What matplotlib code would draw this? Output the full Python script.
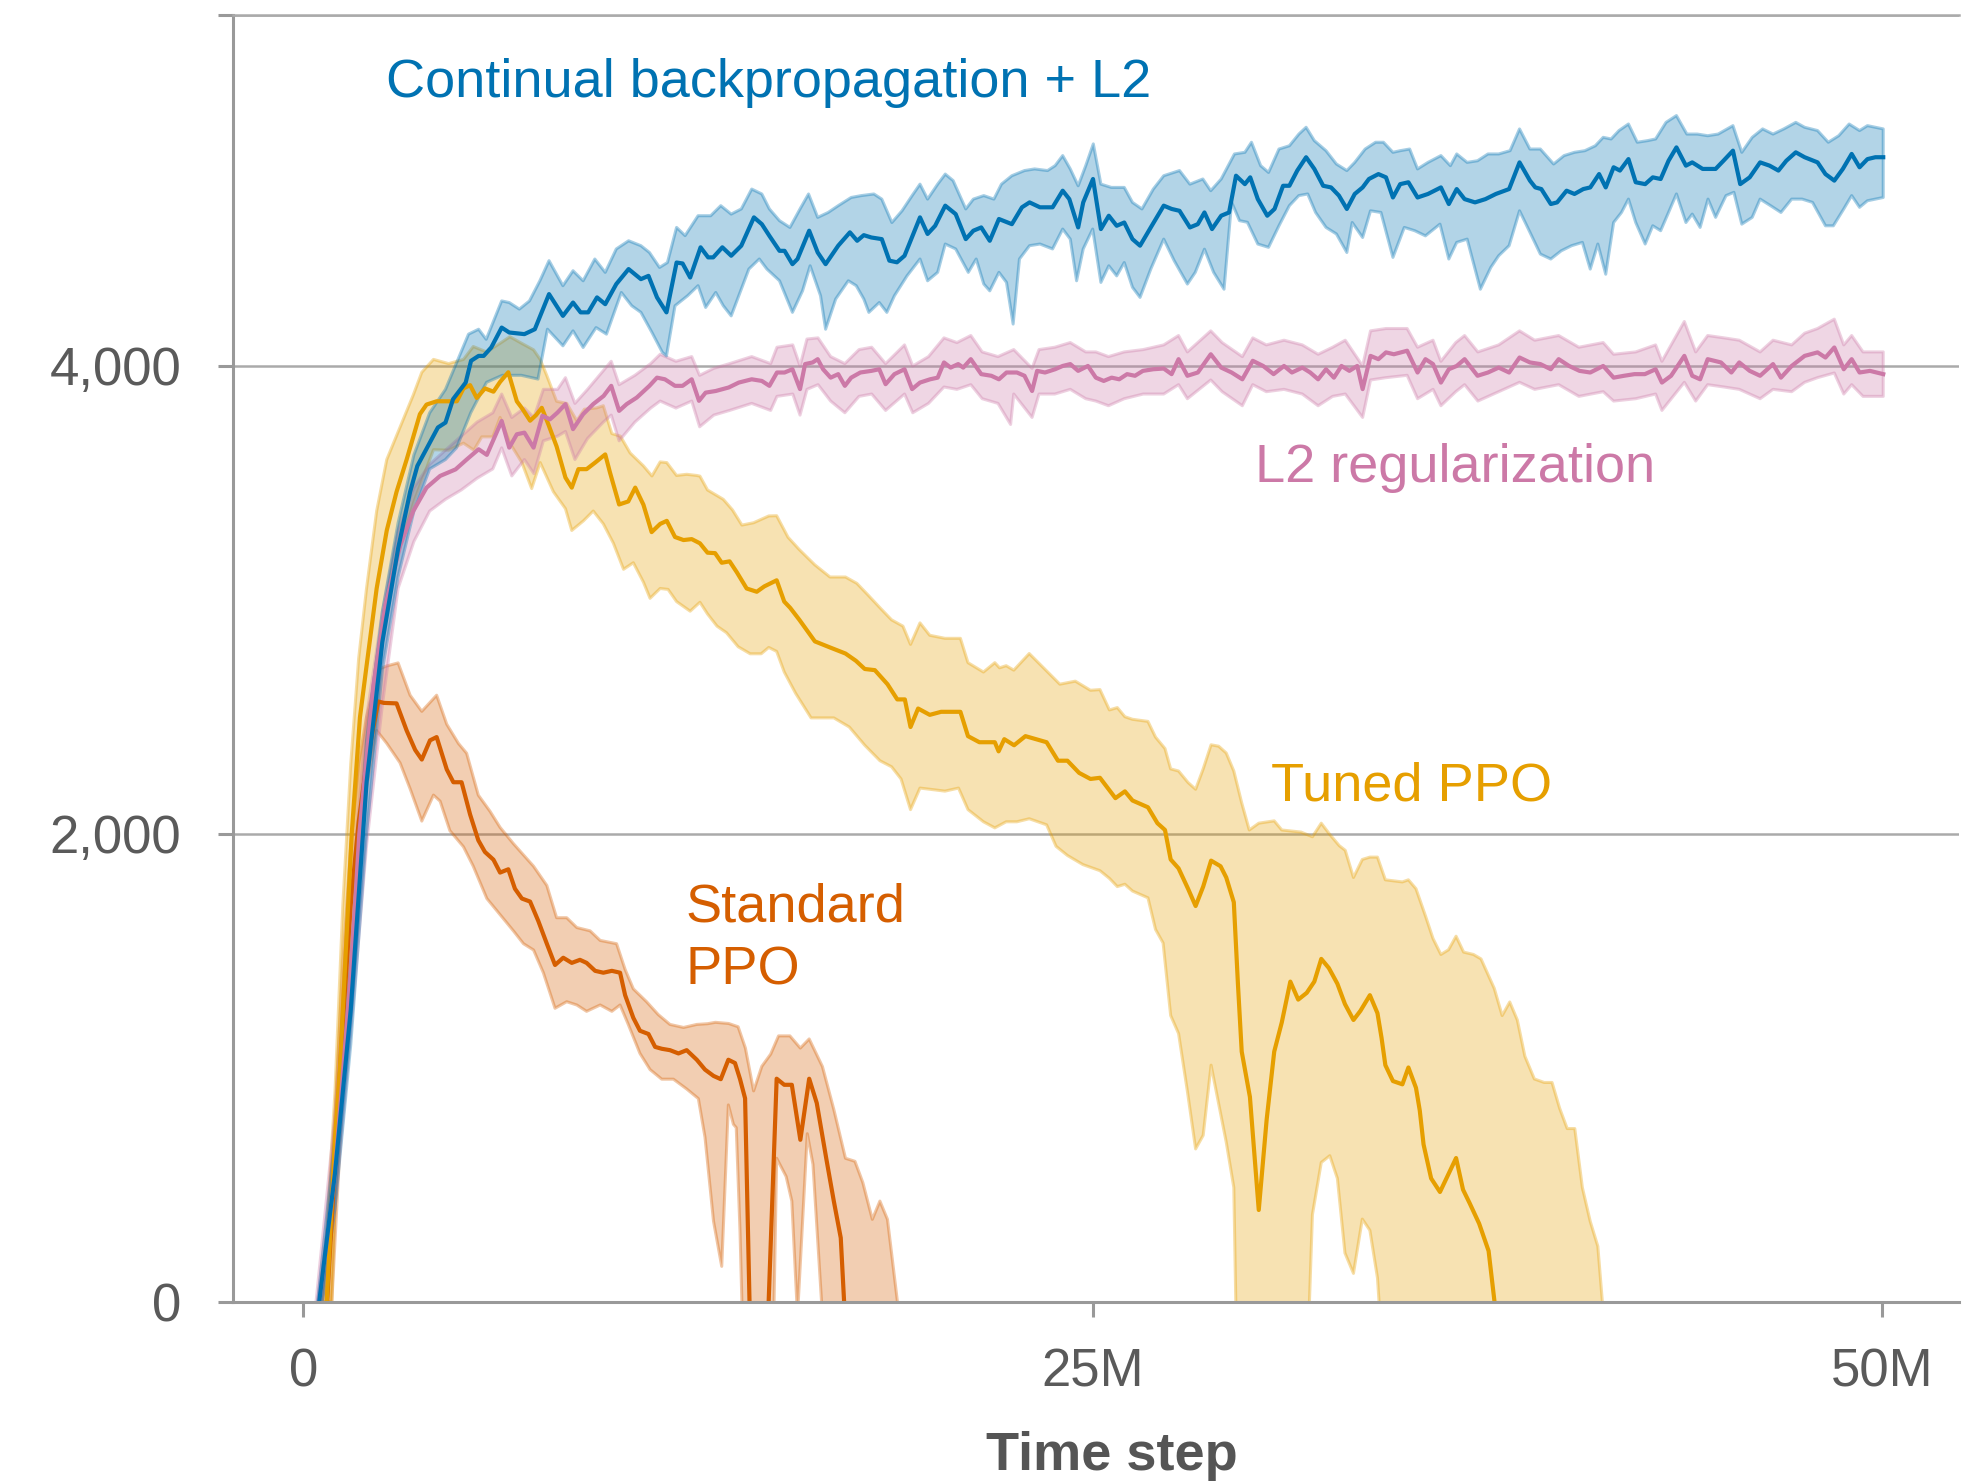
import numpy as np
import matplotlib
matplotlib.use("Agg")
import matplotlib.pyplot as plt
from matplotlib.colors import to_rgba

plt.rcParams['font.family'] = ['Liberation Sans', 'DejaVu Sans']

# Okabe-Ito colours
C_CBP = '#0072B2'
C_L2 = '#CC79A7'
C_TUNED = '#E69F00'
C_STD = '#D55E00'

# ---- data: (time step in millions, episodic return) ----
cbp_mean = [(0.5, 0), (1.0, 550), (1.5, 1250), (2.0, 2220), (2.5, 2820), (3.0, 3220), (3.38, 3462), (3.61, 3573),
            (4.26, 3737), (4.5, 3758), (4.74, 3858), (5.14, 3929), (5.31, 4022), (5.55, 4043), (5.71, 4043),
            (5.95, 4079), (6.28, 4164), (6.52, 4143), (7.0, 4136), (7.33, 4157), (7.78, 4307), (8.22, 4214),
            (8.54, 4271), (8.78, 4229), (9.02, 4229), (9.3, 4293), (9.56, 4264), (9.91, 4350), (10.3, 4414),
            (10.69, 4371), (10.93, 4385), (11.2, 4293), (11.5, 4229), (11.82, 4442), (12.01, 4438), (12.25, 4378),
            (12.58, 4507), (12.82, 4464), (12.98, 4464), (13.27, 4507), (13.55, 4471), (13.87, 4514), (14.27, 4635),
            (14.52, 4606), (14.76, 4556), (15.08, 4492), (15.24, 4492), (15.49, 4435), (15.65, 4457), (16.02, 4578),
            (16.29, 4485), (16.54, 4435), (16.94, 4514), (17.31, 4571), (17.54, 4535), (17.75, 4559), (17.99, 4549),
            (18.32, 4542), (18.56, 4450), (18.8, 4443), (19.04, 4471), (19.53, 4635), (19.77, 4564), (20.01, 4599),
            (20.33, 4685), (20.66, 4649), (20.98, 4542), (21.22, 4578), (21.47, 4592), (21.74, 4535), (22.03, 4628),
            (22.44, 4606), (22.76, 4678), (23.0, 4699), (23.33, 4678), (23.73, 4678), (24.05, 4749), (24.26, 4713),
            (24.54, 4592), (24.7, 4699), (25.01, 4799), (25.26, 4585), (25.51, 4642), (25.76, 4599), (26.0, 4613),
            (26.26, 4542), (26.5, 4514), (26.84, 4592), (27.25, 4685), (27.5, 4671), (27.75, 4663), (28.08, 4592),
            (28.33, 4606), (28.54, 4656), (28.78, 4585), (29.07, 4642), (29.32, 4656), (29.54, 4813), (29.82, 4777),
            (29.99, 4806), (30.23, 4713), (30.53, 4642), (30.76, 4671), (31.03, 4770), (31.23, 4770), (31.48, 4835),
            (31.76, 4892), (32.02, 4842), (32.3, 4770), (32.55, 4763), (32.8, 4728), (33.05, 4671), (33.3, 4735),
            (33.55, 4763), (33.75, 4799), (34.05, 4820), (34.29, 4806), (34.51, 4720), (34.74, 4777), (35.0, 4785),
            (35.29, 4720), (35.62, 4735), (36.03, 4763), (36.28, 4692), (36.53, 4756), (36.78, 4713), (37.11, 4699),
            (37.44, 4713), (37.77, 4735), (38.19, 4756), (38.52, 4870), (38.85, 4792), (39.02, 4763), (39.21, 4756),
            (39.51, 4692), (39.71, 4699), (40.01, 4749), (40.26, 4735), (40.54, 4756), (40.76, 4763), (41.04, 4820),
            (41.25, 4763), (41.5, 4849), (41.7, 4835), (41.97, 4884), (42.2, 4785), (42.5, 4777), (42.74, 4806),
            (42.99, 4799), (43.24, 4877), (43.49, 4934), (43.79, 4856), (43.99, 4870), (44.32, 4842), (44.73, 4842),
            (44.98, 4877), (45.28, 4920), (45.51, 4777), (45.81, 4806), (46.14, 4870), (46.44, 4856), (46.72, 4835),
            (46.97, 4877), (47.27, 4913), (47.55, 4892), (47.96, 4870), (48.21, 4820), (48.49, 4792), (48.76, 4842),
            (49.04, 4906), (49.29, 4849), (49.54, 4884), (49.79, 4892), (50.04, 4892)]
cbp_hi = [(0.45, 0), (1.0, 700), (1.5, 1450), (2.0, 2400), (2.5, 2950), (3.0, 3330), (3.5, 3620), (4.0, 3800),
          (4.5, 3900), (5.23, 4136), (5.55, 4157), (5.79, 4114), (6.28, 4278), (6.52, 4271), (6.84, 4243),
          (7.16, 4278), (7.49, 4364), (7.78, 4450), (8.22, 4343), (8.54, 4407), (8.86, 4364), (9.23, 4457),
          (9.56, 4400), (9.91, 4500), (10.3, 4535), (10.69, 4514), (10.96, 4485), (11.28, 4421), (11.53, 4442),
          (11.82, 4592), (12.09, 4557), (12.5, 4642), (12.9, 4642), (13.22, 4685), (13.55, 4649), (13.87, 4671),
          (14.2, 4756), (14.52, 4735), (14.76, 4671), (15.08, 4621), (15.41, 4592), (15.73, 4671), (16.0, 4735),
          (16.29, 4635), (16.62, 4656), (16.94, 4685), (17.35, 4720), (17.67, 4728), (18.07, 4735), (18.32, 4713),
          (18.64, 4613), (18.96, 4663), (19.28, 4728), (19.53, 4777), (19.77, 4713), (20.09, 4777), (20.33, 4820),
          (20.58, 4792), (20.98, 4671), (21.22, 4713), (21.55, 4728), (21.87, 4713), (22.11, 4777), (22.44, 4813),
          (22.84, 4835), (23.16, 4842), (23.57, 4835), (23.81, 4856), (24.05, 4899), (24.29, 4842), (24.54, 4770),
          (24.78, 4856), (25.02, 4949), (25.26, 4777), (25.59, 4763), (26.0, 4763), (26.26, 4699), (26.56, 4671),
          (26.92, 4756), (27.25, 4813), (27.75, 4835), (28.08, 4777), (28.49, 4799), (28.74, 4749), (29.07, 4799),
          (29.49, 4906), (29.82, 4913), (30.03, 4956), (30.32, 4856), (30.57, 4827), (30.9, 4927), (31.23, 4941),
          (31.53, 4991), (31.76, 5020), (32.02, 4963), (32.39, 4920), (32.72, 4863), (33.05, 4835), (33.3, 4870),
          (33.63, 4927), (33.96, 4956), (34.21, 4956), (34.51, 4913), (34.74, 4920), (35.04, 4927), (35.29, 4842),
          (35.62, 4870), (36.03, 4899), (36.33, 4856), (36.53, 4906), (36.86, 4870), (37.19, 4877), (37.52, 4906),
          (37.86, 4906), (38.22, 4920), (38.52, 5013), (38.85, 4927), (39.18, 4927), (39.6, 4863), (39.93, 4899),
          (40.26, 4913), (40.59, 4920), (40.92, 4941), (41.17, 4977), (41.42, 4970), (41.67, 5006), (41.97, 5034),
          (42.25, 4956), (42.58, 4963), (42.83, 4970), (43.16, 5041), (43.49, 5070), (43.82, 4991), (44.15, 4991),
          (44.48, 4984), (44.81, 4991), (45.28, 5027), (45.56, 4913), (45.89, 4977), (46.22, 5013), (46.55, 4991),
          (46.89, 5013), (47.27, 5041), (47.55, 5020), (47.96, 5006), (48.3, 4956), (48.63, 4984), (48.96, 5034),
          (49.29, 5006), (49.54, 5027), (50.04, 5013)]
cbp_lo = [(0.6, 0), (1.0, 400), (1.5, 1100), (2.0, 2000), (2.5, 2700), (3.0, 3100), (3.5, 3380), (4.0, 3560),
          (4.5, 3600), (4.85, 3650), (5.3, 3800), (5.8, 3930), (6.3, 3960), (6.9, 3960), (7.43, 3944), (7.73, 4157),
          (8.22, 4086), (8.54, 4150), (8.86, 4079), (9.27, 4164), (9.6, 4136), (10.07, 4314), (10.4, 4257),
          (10.69, 4229), (11.04, 4143), (11.37, 4058), (11.5, 4043), (11.77, 4257), (12.17, 4300), (12.5, 4343),
          (12.74, 4250), (13.06, 4314), (13.3, 4257), (13.55, 4214), (14.11, 4414), (14.44, 4457), (14.68, 4414),
          (15.08, 4364), (15.49, 4229), (15.81, 4321), (16.05, 4428), (16.38, 4300), (16.54, 4157), (16.86, 4286),
          (17.26, 4364), (17.51, 4343), (17.75, 4286), (17.91, 4229), (18.24, 4271), (18.48, 4229), (18.72, 4300),
          (19.12, 4385), (19.53, 4457), (19.77, 4364), (20.09, 4400), (20.33, 4521), (20.66, 4500), (21.06, 4400),
          (21.31, 4457), (21.55, 4350), (21.74, 4321), (22.03, 4400), (22.27, 4357), (22.48, 4179), (22.68, 4457),
          (23.0, 4514), (23.33, 4521), (23.73, 4500), (24.05, 4585), (24.29, 4542), (24.49, 4364), (24.7, 4500),
          (25.0, 4585), (25.26, 4357), (25.51, 4428), (25.76, 4385), (26.0, 4442), (26.26, 4336), (26.5, 4293),
          (26.84, 4414), (27.25, 4542), (27.58, 4450), (28.0, 4350), (28.25, 4400), (28.54, 4499), (28.83, 4400),
          (29.16, 4328), (29.4, 4700), (29.65, 4621), (29.9, 4614), (30.23, 4521), (30.57, 4507), (30.9, 4599),
          (31.23, 4685), (31.53, 4728), (31.81, 4735), (32.06, 4656), (32.39, 4592), (32.72, 4564), (33.05, 4485),
          (33.22, 4613), (33.55, 4549), (33.8, 4663), (34.13, 4656), (34.51, 4464), (34.87, 4592), (35.2, 4578),
          (35.54, 4556), (36.0, 4606), (36.28, 4457), (36.53, 4528), (36.86, 4542), (37.28, 4328), (37.61, 4421),
          (37.86, 4471), (38.19, 4514), (38.52, 4663), (38.85, 4571), (39.18, 4478), (39.51, 4457), (39.84, 4492),
          (40.17, 4514), (40.51, 4528), (40.76, 4414), (41.0, 4521), (41.25, 4392), (41.5, 4613), (41.75, 4656),
          (41.97, 4713), (42.2, 4613), (42.5, 4521), (42.74, 4599), (42.99, 4578), (43.24, 4656), (43.49, 4735),
          (43.79, 4613), (43.99, 4649), (44.24, 4592), (44.49, 4713), (44.73, 4635), (45.06, 4728), (45.31, 4742),
          (45.56, 4606), (45.89, 4635), (46.14, 4713), (46.47, 4685), (46.8, 4656), (47.14, 4713), (47.47, 4713),
          (47.8, 4699), (48.21, 4599), (48.46, 4599), (48.79, 4671), (49.04, 4728), (49.29, 4678), (49.54, 4706),
          (50.04, 4720)]

l2_mean = [(0.5, 0), (1.0, 550), (1.5, 1400), (1.77, 2000), (2.22, 2635), (2.6, 2980), (3.06, 3230), (3.48, 3380),
           (3.9, 3480), (4.33, 3530), (4.82, 3558), (5.17, 3600), (5.55, 3644), (5.81, 3620), (6.28, 3765),
           (6.52, 3651), (6.76, 3708), (7.0, 3715), (7.29, 3651), (7.57, 3787), (7.81, 3772), (8.05, 3801),
           (8.3, 3837), (8.54, 3730), (8.86, 3794), (9.18, 3837), (9.51, 3872), (9.75, 3915), (10.0, 3808),
           (10.24, 3837), (10.56, 3865), (10.96, 3915), (11.2, 3950), (11.45, 3943), (11.77, 3915), (12.01, 3915),
           (12.3, 3943), (12.53, 3851), (12.74, 3886), (13.06, 3893), (13.47, 3908), (13.79, 3929), (14.2, 3943),
           (14.52, 3936), (14.76, 3915), (15.0, 3972), (15.24, 3972), (15.49, 3986), (15.73, 3901), (15.89, 4008),
           (16.13, 4015), (16.29, 4029), (16.46, 3986), (16.7, 3950), (16.94, 3965), (17.15, 3915), (17.35, 3950),
           (17.64, 3972), (17.99, 3979), (18.24, 3986), (18.44, 3922), (18.72, 3965), (19.04, 3986), (19.28, 3901),
           (19.53, 3929), (19.85, 3943), (20.09, 3950), (20.29, 4015), (20.5, 3993), (20.74, 4008), (20.9, 3993),
           (21.14, 4029), (21.47, 3965), (21.79, 3958), (22.03, 3943), (22.27, 3972), (22.6, 3972), (22.84, 3958),
           (23.08, 3893), (23.24, 3979), (23.49, 3972), (23.81, 3986), (24.05, 4000), (24.29, 4008), (24.54, 3979),
           (24.85, 4000), (25.1, 3950), (25.35, 3936), (25.6, 3950), (25.84, 3943), (26.09, 3965), (26.34, 3958),
           (26.59, 3979), (26.92, 3986), (27.25, 3989), (27.5, 3965), (27.72, 4029), (28.0, 3958), (28.33, 3972),
           (28.74, 4050), (29.07, 3993), (29.4, 3972), (29.74, 3943), (30.07, 4022), (30.4, 4000), (30.73, 3965),
           (31.06, 4000), (31.31, 3972), (31.64, 3993), (31.89, 3972), (32.14, 3943), (32.39, 3986), (32.64, 3950),
           (32.88, 4000), (33.13, 3979), (33.38, 4000), (33.55, 3901), (33.8, 4043), (34.05, 4029), (34.29, 4058),
           (34.54, 4050), (34.96, 4065), (35.29, 3972), (35.54, 4029), (35.78, 4008), (36.03, 3929), (36.28, 3986),
           (36.53, 4000), (36.78, 4029), (37.19, 3958), (37.52, 3972), (37.86, 3993), (38.19, 3972), (38.52, 4036),
           (38.85, 4015), (39.18, 4008), (39.51, 3986), (39.76, 4029), (40.09, 4000), (40.42, 3979), (40.76, 3972),
           (41.17, 4000), (41.5, 3950), (41.83, 3958), (42.16, 3965), (42.49, 3965), (42.83, 3986), (43.03, 3929),
           (43.32, 3958), (43.74, 4043), (43.99, 3958), (44.24, 3943), (44.48, 4029), (44.9, 4015), (45.23, 3972),
           (45.48, 4015), (45.81, 3979), (46.14, 3958), (46.55, 4008), (46.8, 3950), (47.14, 4000), (47.55, 4043),
           (47.96, 4058), (48.21, 4036), (48.49, 4079), (48.79, 3986), (49.04, 4029), (49.29, 3972), (49.62, 3979),
           (50.04, 3965)]
l2_hi = [(0.4, 0), (1.0, 800), (1.5, 1700), (2.0, 2500), (2.5, 2950), (3.0, 3300), (3.5, 3480), (4.0, 3580),
         (4.5, 3640), (5.0, 3700), (5.5, 3760), (6.0, 3800), (6.28, 3880), (6.6, 3780), (7.0, 3820), (7.3, 3780),
         (7.6, 3900), (8.05, 3900), (8.3, 3950), (8.6, 3840), (9.0, 3900), (9.5, 3980), (9.75, 4020), (10.0, 3920),
         (10.5, 3960), (11.0, 4010), (11.3, 4050), (11.8, 4020), (12.3, 4040), (12.55, 3960), (13.0, 3990),
         (13.5, 4010), (14.2, 4040), (14.8, 4010), (15.0, 4080), (15.5, 4090), (15.73, 4000), (15.95, 4115),
         (16.3, 4120), (16.7, 4040), (17.15, 4010), (17.6, 4070), (18.0, 4080), (18.44, 4010), (19.04, 4090),
         (19.3, 4000), (19.8, 4040), (20.29, 4120), (20.7, 4100), (21.14, 4130), (21.5, 4060), (22.0, 4040),
         (22.5, 4070), (23.08, 3990), (23.3, 4070), (23.8, 4080), (24.29, 4100), (24.78, 4060), (25.1, 4060),
         (25.5, 4040), (26.0, 4060), (26.6, 4070), (27.25, 4090), (27.72, 4130), (28.0, 4060), (28.74, 4150),
         (29.1, 4100), (29.74, 4040), (30.07, 4120), (30.5, 4090), (31.06, 4110), (31.64, 4090), (32.14, 4050),
         (32.6, 4080), (33.0, 4110), (33.55, 4000), (33.8, 4150), (34.29, 4160), (34.96, 4160), (35.29, 4080),
         (35.78, 4110), (36.03, 4020), (36.5, 4100), (36.78, 4130), (37.2, 4060), (37.86, 4090), (38.52, 4150),
         (39.0, 4110), (39.76, 4130), (40.4, 4080), (41.17, 4100), (41.5, 4050), (42.2, 4060), (42.83, 4090),
         (43.03, 4020), (43.74, 4190), (44.1, 4060), (44.48, 4130), (45.0, 4120), (45.48, 4110), (46.14, 4060),
         (46.55, 4110), (47.14, 4090), (47.55, 4140), (47.96, 4160), (48.49, 4200), (48.79, 4090), (49.04, 4130),
         (49.4, 4060), (50.04, 4060)]
l2_lo = [(0.6, 0), (1.0, 400), (1.5, 1150), (2.0, 1950), (2.5, 2550), (3.0, 3050), (3.5, 3250), (4.0, 3380),
         (4.5, 3430), (5.0, 3470), (5.5, 3520), (6.0, 3560), (6.28, 3650), (6.6, 3530), (7.0, 3600), (7.3, 3540),
         (7.6, 3680), (8.05, 3700), (8.3, 3720), (8.6, 3600), (9.0, 3690), (9.5, 3760), (9.75, 3790), (10.0, 3680),
         (10.5, 3760), (11.0, 3820), (11.3, 3850), (11.8, 3820), (12.3, 3850), (12.55, 3740), (13.0, 3790),
         (13.5, 3810), (14.2, 3840), (14.8, 3810), (15.0, 3870), (15.5, 3880), (15.73, 3790), (15.95, 3900),
         (16.3, 3920), (16.7, 3850), (17.15, 3800), (17.6, 3870), (18.0, 3880), (18.44, 3810), (19.04, 3880),
         (19.3, 3800), (19.8, 3840), (20.29, 3910), (20.7, 3900), (21.14, 3920), (21.5, 3860), (22.0, 3840),
         (22.4, 3750), (22.5, 3880), (23.08, 3780), (23.3, 3880), (23.8, 3880), (24.29, 3900), (24.78, 3860),
         (25.1, 3850), (25.5, 3830), (26.0, 3860), (26.6, 3880), (27.25, 3880), (27.72, 3920), (28.0, 3860),
         (28.74, 3940), (29.1, 3890), (29.74, 3830), (30.07, 3920), (30.5, 3890), (31.06, 3900), (31.64, 3880),
         (32.14, 3830), (32.6, 3870), (33.0, 3880), (33.55, 3780), (33.8, 3940), (34.29, 3950), (34.96, 3960),
         (35.29, 3860), (35.78, 3900), (36.03, 3830), (36.5, 3890), (36.78, 3920), (37.2, 3850), (37.86, 3890),
         (38.52, 3930), (39.0, 3900), (39.76, 3920), (40.4, 3870), (41.17, 3890), (41.5, 3850), (42.2, 3860),
         (42.83, 3880), (43.03, 3810), (43.74, 3930), (44.1, 3850), (44.48, 3920), (45.0, 3910), (45.48, 3900),
         (46.14, 3860), (46.55, 3900), (47.14, 3890), (47.55, 3930), (47.96, 3950), (48.49, 3970), (48.79, 3880),
         (49.04, 3920), (49.4, 3870), (50.04, 3870)]

tuned_mean = [(0.74, 0), (1.0, 700), (1.16, 1007), (1.53, 2000), (1.79, 2497), (2.0, 2718), (2.32, 3049), (2.64, 3297),
              (2.95, 3462), (3.27, 3600), (3.69, 3794), (3.9, 3835), (4.22, 3849), (4.54, 3849), (4.86, 3849),
              (5.07, 3904), (5.28, 3918), (5.49, 3863), (5.75, 3904), (6.02, 3890), (6.23, 3932), (6.49, 3973),
              (6.76, 3849), (6.92, 3820), (7.18, 3766), (7.37, 3790), (7.55, 3821), (7.76, 3750), (8.02, 3656),
              (8.3, 3523), (8.5, 3480), (8.71, 3559), (8.97, 3559), (9.24, 3587), (9.56, 3622), (9.71, 3545),
              (10.0, 3408), (10.29, 3421), (10.51, 3480), (10.77, 3407), (11.03, 3290), (11.3, 3325), (11.51, 3338),
              (11.77, 3269), (12.04, 3256), (12.3, 3260), (12.56, 3242), (12.8, 3202), (13.04, 3200), (13.25, 3159),
              (13.5, 3165), (13.73, 3118), (14.04, 3049), (14.36, 3035), (14.6, 3058), (14.99, 3084), (15.23, 2993),
              (15.42, 2966), (15.71, 2915), (16.2, 2823), (16.68, 2797), (17.17, 2771), (17.5, 2740), (17.78, 2705),
              (18.1, 2700), (18.5, 2640), (18.81, 2575), (19.05, 2575), (19.23, 2457), (19.47, 2536), (19.84, 2509),
              (20.2, 2522), (20.5, 2522), (20.81, 2522), (21.05, 2418), (21.41, 2392), (21.9, 2392), (22.02, 2353),
              (22.2, 2405), (22.51, 2379), (22.87, 2418), (23.2, 2405), (23.54, 2392), (23.9, 2313), (24.2, 2313),
              (24.57, 2261), (24.93, 2235), (25.23, 2240), (25.72, 2153), (26.02, 2182), (26.26, 2143), (26.75, 2114),
              (27.05, 2046), (27.29, 2017), (27.47, 1891), (27.72, 1853), (28.02, 1766), (28.26, 1692), (28.5, 1775),
              (28.75, 1886), (29.05, 1862), (29.23, 1814), (29.47, 1708), (29.6, 1360), (29.72, 1070), (29.98, 876),
              (30.26, 393), (30.51, 779), (30.75, 1070), (30.99, 1195), (31.26, 1369), (31.51, 1292), (31.78, 1321),
              (32.02, 1369), (32.24, 1466), (32.48, 1427), (32.75, 1360), (32.99, 1273), (33.26, 1205), (33.48, 1244),
              (33.78, 1311), (34.02, 1234), (34.15, 1128), (34.27, 1012), (34.51, 944), (34.81, 930), (35.0, 1002),
              (35.24, 915), (35.36, 818), (35.48, 673), (35.72, 528), (36.0, 470), (36.27, 547), (36.51, 615),
              (36.73, 480), (36.94, 422), (37.24, 335), (37.54, 218), (37.78, -60)]
tuned_hi = [(0.6, 0), (1.0, 900), (1.25, 1700), (1.5, 2300), (1.75, 2750), (2.0, 3050), (2.32, 3380), (2.64, 3600),
            (3.06, 3738), (3.48, 3876), (3.75, 3973), (4.12, 4028), (4.6, 4010), (5.07, 4028), (5.38, 4083),
            (5.8, 4060), (6.23, 4097), (6.54, 4125), (6.87, 4100), (7.29, 4069), (7.5, 4028), (7.71, 3959),
            (8.02, 3849), (8.34, 3840), (8.66, 3766), (8.9, 3815), (9.29, 3821), (9.5, 3830), (9.77, 3711),
            (10.04, 3700), (10.35, 3628), (10.77, 3573), (11.04, 3530), (11.3, 3590), (11.51, 3587), (11.82, 3532),
            (12.14, 3537), (12.46, 3532), (12.56, 3529), (12.8, 3470), (13.05, 3450), (13.3, 3430), (13.59, 3385),
            (13.89, 3320), (14.26, 3330), (14.74, 3359), (14.99, 3360), (15.35, 3268), (15.71, 3215), (16.2, 3150),
            (16.68, 3098), (17.17, 3098), (17.53, 3071), (17.9, 3019), (18.26, 2967), (18.63, 2915), (18.99, 2888),
            (19.23, 2810), (19.53, 2902), (19.84, 2849), (20.32, 2836), (20.81, 2836), (21.05, 2732), (21.54, 2692),
            (21.9, 2732), (22.05, 2710), (22.26, 2719), (22.5, 2700), (22.99, 2771), (23.48, 2705), (23.96, 2640),
            (24.45, 2653), (24.93, 2614), (25.23, 2617), (25.53, 2530), (25.78, 2540), (26.02, 2501), (26.26, 2490),
            (26.75, 2481), (26.99, 2414), (27.29, 2365), (27.47, 2278), (27.72, 2269), (28.02, 2220), (28.26, 2191),
            (28.5, 2278), (28.75, 2381), (28.99, 2375), (29.23, 2346), (29.47, 2269), (29.72, 2133), (29.96, 2017),
            (30.26, 2046), (30.75, 2056), (30.99, 2017), (31.6, 2008), (31.96, 1988), (32.24, 2046), (32.51, 1998),
            (32.81, 1950), (33.0, 1930), (33.26, 1814), (33.54, 1891), (33.78, 1901), (34.02, 1901), (34.27, 1804),
            (34.81, 1795), (35.0, 1804), (35.24, 1766), (35.54, 1650), (35.78, 1553), (36.03, 1485), (36.27, 1505),
            (36.51, 1563), (36.75, 1495), (37.06, 1485), (37.3, 1466), (37.72, 1340), (37.97, 1224), (38.21, 1282),
            (38.45, 1205), (38.69, 1050), (38.99, 953), (39.3, 938), (39.55, 938), (39.79, 828), (40.03, 741),
            (40.27, 741), (40.51, 489), (40.76, 344), (41.0, 238), (41.18, -60)]
tuned_lo = [(0.9, 0), (1.0, 400), (1.5, 1650), (2.0, 2400), (2.32, 2750), (2.64, 3000), (3.0, 3200), (3.5, 3420),
            (4.12, 3642), (4.6, 3640), (5.07, 3670), (5.4, 3640), (5.65, 3697), (6.0, 3697), (6.23, 3780),
            (6.54, 3670), (6.92, 3587), (7.23, 3476), (7.5, 3587), (7.92, 3462), (8.3, 3390), (8.5, 3297),
            (8.87, 3338), (9.18, 3380), (9.5, 3325), (9.82, 3242), (10.14, 3131), (10.45, 3159), (10.77, 3076),
            (10.98, 3007), (11.3, 3049), (11.55, 3045), (11.82, 2993), (12.25, 2952), (12.56, 2990), (12.8, 2940),
            (13.1, 2888), (13.4, 2860), (13.77, 2800), (14.15, 2770), (14.5, 2770), (14.74, 2797), (14.99, 2780),
            (15.23, 2692), (15.59, 2601), (16.08, 2496), (16.8, 2496), (17.29, 2457), (17.78, 2379), (18.26, 2313),
            (18.63, 2287), (18.93, 2235), (19.23, 2104), (19.53, 2196), (19.9, 2190), (20.32, 2183), (20.75, 2196),
            (21.05, 2104), (21.54, 2052), (21.9, 2026), (22.26, 2052), (22.6, 2052), (22.99, 2065), (23.54, 2039),
            (23.84, 1947), (24.2, 1908), (24.69, 1869), (25.23, 1843), (25.53, 1810), (25.78, 1775), (26.02, 1785),
            (26.26, 1756), (26.75, 1727), (26.99, 1592), (27.23, 1534), (27.47, 1224), (27.72, 1147), (28.0, 900),
            (28.26, 654), (28.5, 712), (28.75, 1012), (28.99, 847), (29.23, 683), (29.47, 489), (29.54, -60),
            (31.85, -60), (31.96, 373), (32.24, 596), (32.51, 625), (32.75, 528), (32.99, 209), (33.26, 122),
            (33.54, 354), (33.78, 306), (34.02, 103), (34.1, -60), (41.18, -60)]

std_mean = [(0.75, 0), (1.0, 600), (1.25, 1200), (1.5, 1700), (1.75, 2050), (2.0, 2300), (2.37, 2566), (2.55, 2560),
            (2.95, 2558), (3.27, 2442), (3.54, 2359), (3.75, 2318), (4.01, 2400), (4.22, 2414), (4.54, 2276),
            (4.75, 2221), (5.01, 2221), (5.28, 2083), (5.54, 1973), (5.75, 1923), (6.02, 1890), (6.23, 1835),
            (6.49, 1849), (6.7, 1766), (6.92, 1724), (7.18, 1711), (7.44, 1628), (7.71, 1531), (7.97, 1440),
            (8.23, 1471), (8.5, 1449), (8.76, 1462), (8.97, 1449), (9.24, 1415), (9.5, 1407), (9.77, 1415),
            (10.03, 1407), (10.19, 1311), (10.45, 1214), (10.66, 1159), (10.93, 1145), (11.14, 1090), (11.35, 1082),
            (11.61, 1076), (11.88, 1062), (12.14, 1076), (12.46, 1035), (12.72, 993), (12.99, 966), (13.22, 952),
            (13.46, 1035), (13.67, 1021), (13.83, 952), (13.99, 870), (14.14, -60), (14.72, -60), (14.99, 954),
            (15.23, 928), (15.47, 928), (15.74, 693), (16.02, 954), (16.26, 850), (16.56, 614), (16.8, 431),
            (17.02, 274), (17.15, -60)]
std_hi = [(0.6, 0), (1.0, 800), (1.25, 1450), (1.5, 1950), (1.75, 2300), (2.0, 2500), (2.37, 2704), (2.64, 2718),
          (3.0, 2731), (3.38, 2593), (3.75, 2524), (4.22, 2593), (4.54, 2469), (4.91, 2387), (5.17, 2345),
          (5.54, 2166), (5.91, 2097), (6.23, 2028), (6.65, 1959), (6.92, 1918), (7.29, 1862), (7.71, 1780),
          (8.02, 1642), (8.34, 1642), (8.66, 1600), (9.08, 1586), (9.4, 1545), (9.92, 1531), (10.19, 1421),
          (10.45, 1338), (10.87, 1283), (11.24, 1228), (11.61, 1186), (12.04, 1173), (12.46, 1186), (12.8, 1189),
          (13.05, 1195), (13.47, 1190), (13.77, 1176), (14.0, 1085), (14.26, 902), (14.52, 1007), (14.8, 1059),
          (15.05, 1137), (15.41, 1137), (15.74, 1085), (16.02, 1124), (16.44, 1006), (16.8, 823), (17.17, 614),
          (17.47, 601), (17.72, 510), (18.02, 353), (18.26, 431), (18.5, 353), (18.87, -60)]
std_lo = [(0.9, 0), (1.25, 900), (1.5, 1450), (1.75, 1900), (2.0, 2200), (2.32, 2442), (2.64, 2387), (3.06, 2304),
          (3.38, 2193), (3.75, 2055), (4.12, 2166), (4.33, 2140), (4.64, 2014), (5.07, 1945), (5.38, 1862),
          (5.81, 1724), (6.23, 1655), (6.65, 1586), (6.97, 1531), (7.29, 1504), (7.6, 1407), (7.97, 1255),
          (8.34, 1283), (8.66, 1269), (8.97, 1242), (9.4, 1269), (9.77, 1242), (10.03, 1269), (10.29, 1186),
          (10.66, 1062), (10.98, 993), (11.35, 952), (11.72, 952), (12.14, 910), (12.51, 869), (12.72, 704),
          (12.99, 345), (13.25, 152), (13.46, 842), (13.62, 759), (13.71, 745), (13.83, 300), (13.9, -60),
          (14.9, -60), (14.99, 614), (15.29, 536), (15.47, 431), (15.65, -60), (15.96, 719), (16.14, 588),
          (16.44, -60), (18.87, -60)]

x_ticks = [0, 25, 50]
x_ticklabels = ['0', '25M', '50M']
y_ticks = [0, 2000, 4000, 5500]
y_ticklabels = ['0', '2,000', '4,000', '']

series = [
    (std_mean, std_hi, std_lo, C_STD),
    (tuned_mean, tuned_hi, tuned_lo, C_TUNED),
    (l2_mean, l2_hi, l2_lo, C_L2),
    (cbp_mean, cbp_hi, cbp_lo, C_CBP),
]

fig = plt.figure(figsize=(19.82, 14.81), dpi=100)
ax = fig.add_axes([0.1174, 0.1209, 0.8710, 0.8690])

# shaded bands first (outlined polygon), then the mean curves on top
for mean, hi, lo, col in series:
    th, vh = np.array(hi).T
    tl, vl = np.array(lo).T
    ax.fill(np.r_[th, tl[::-1]], np.r_[vh, vl[::-1]], facecolor=to_rgba(col, 0.3),
            edgecolor=to_rgba(col, 0.35), lw=2.2, joinstyle='round', zorder=1)
for mean, hi, lo, col in series:
    tm, vm = np.array(mean).T
    ax.plot(tm, vm, color=col, lw=3.0, zorder=2, solid_joinstyle='round')

ax.set_xlim(-2.24, 52.44)
ax.set_ylim(0, 5500)
ax.set_xticks(x_ticks)
ax.set_xticklabels(x_ticklabels)
ax.set_yticks(y_ticks)
ax.set_yticklabels(y_ticklabels)
ax.grid(axis='y', color='#aaaaaa', lw=1.8)
ax.set_axisbelow(True)

for side in ['left', 'bottom']:
    ax.spines[side].set_color('#999999')
    ax.spines[side].set_linewidth(2.2)
ax.spines['right'].set_visible(False)
ax.spines['top'].set_color('#aaaaaa')
ax.spines['top'].set_linewidth(1.8)

ax.tick_params(axis='both', direction='out', length=11, width=2.2, color='#999999',
               labelsize=38, labelcolor='#5a5a5a')
ax.tick_params(axis='y', pad=26)
ax.tick_params(axis='x', pad=22)

fig.text(0.5612, 0.0074, 'Time step', ha='center', va='baseline', fontsize=39,
         fontweight='bold', color='#555555')

ax.text(2.62, 5150, 'Continual backpropagation + L2', color=C_CBP, fontsize=39, va='baseline')
ax.text(30.14, 3505, 'L2 regularization', color=C_L2, fontsize=39, va='baseline')
ax.text(30.66, 2145, 'Tuned PPO', color=C_TUNED, fontsize=39, va='baseline')
ax.text(12.09, 1627, 'Standard', color=C_STD, fontsize=39, va='baseline')
ax.text(12.09, 1357, 'PPO', color=C_STD, fontsize=39, va='baseline')

fig.savefig('out.png', dpi=100)
